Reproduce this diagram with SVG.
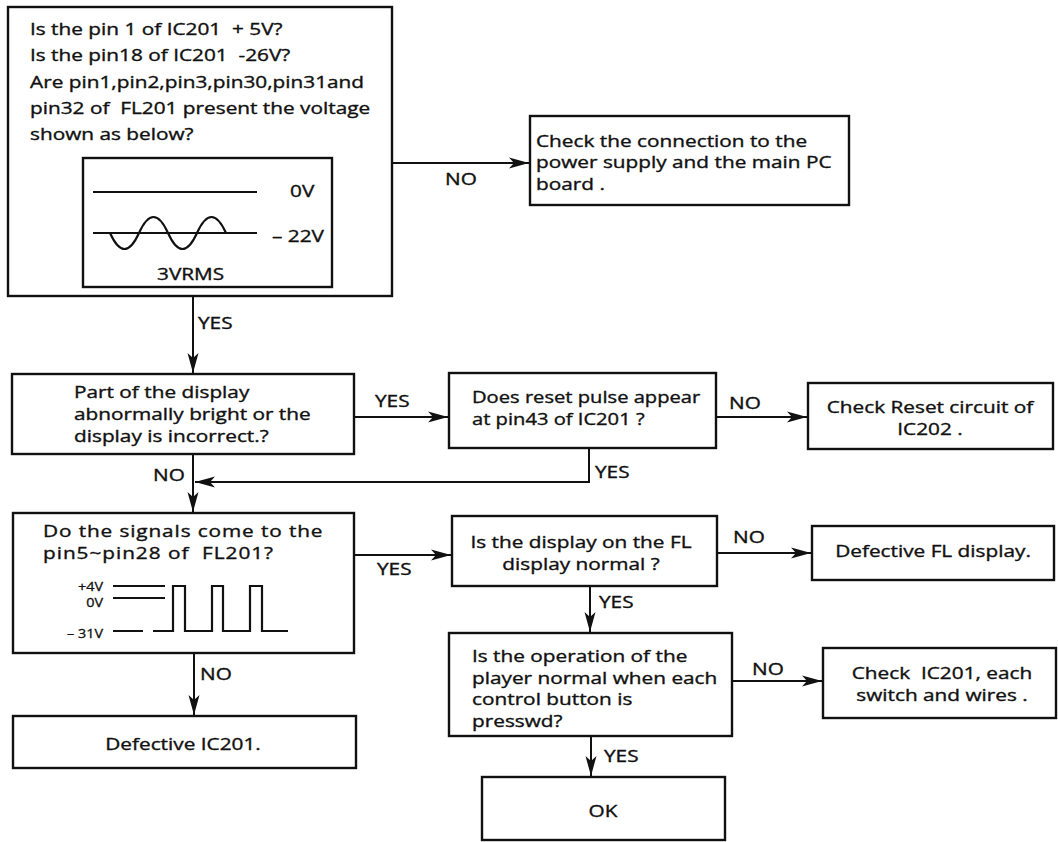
<svg xmlns="http://www.w3.org/2000/svg" width="1058" height="842" viewBox="0 0 1058 842">
<style>
.box{fill:#fff;stroke:#111;stroke-width:2.4}
.ln{fill:none;stroke:#111;stroke-width:2}
.wv{fill:none;stroke:#111;stroke-width:2.2}
text{font-family:"Open Sans","Noto Sans","DejaVu Sans",sans-serif;font-size:16px;fill:#111;stroke:#111;stroke-width:0.35;white-space:pre}
.m{text-anchor:middle}
.e{text-anchor:end}
.s{font-size:12px;stroke-width:0.3}
</style>
<defs>
<marker id="ah" viewBox="-21 -6 22 12" refX="0" refY="0" markerWidth="22" markerHeight="12" markerUnits="userSpaceOnUse" orient="auto">
<path d="M0,0 L-20,-5.5 L-15,0 L-20,5.5 Z" fill="#111"/>
</marker>
</defs>
<rect width="1058" height="842" fill="#fff"/>

<g id="connectors">
<path class="ln" d="M392,163 H529" marker-end="url(#ah)"/>
<path class="ln" d="M193,296 V373" marker-end="url(#ah)"/>
<path class="ln" d="M354,417 H448" marker-end="url(#ah)"/>
<path class="ln" d="M716,417 H807" marker-end="url(#ah)"/>
<path class="ln" d="M589,448 V482 H195" marker-end="url(#ah)"/>
<path class="ln" d="M193,454 V512" marker-end="url(#ah)"/>
<path class="ln" d="M354,555 H451" marker-end="url(#ah)"/>
<path class="ln" d="M717,553 H811" marker-end="url(#ah)"/>
<path class="ln" d="M590,586 V632" marker-end="url(#ah)"/>
<path class="ln" d="M194,653 V715" marker-end="url(#ah)"/>
<path class="ln" d="M732,681 H822" marker-end="url(#ah)"/>
<path class="ln" d="M591,736 V776" marker-end="url(#ah)"/>
<g transform="translate(445 0) scale(1.3 1)"><text x="0" y="185">NO</text></g>
<g transform="translate(198 0) scale(1.3 1)"><text x="0" y="329">YES</text></g>
<g transform="translate(375 0) scale(1.3 1)"><text x="0" y="407">YES</text></g>
<g transform="translate(729 0) scale(1.3 1)"><text x="0" y="409">NO</text></g>
<g transform="translate(595 0) scale(1.3 1)"><text x="0" y="478">YES</text></g>
<g transform="translate(153 0) scale(1.3 1)"><text x="0" y="481">NO</text></g>
<g transform="translate(377 0) scale(1.3 1)"><text x="0" y="575">YES</text></g>
<g transform="translate(733 0) scale(1.3 1)"><text x="0" y="543">NO</text></g>
<g transform="translate(599 0) scale(1.3 1)"><text x="0" y="608">YES</text></g>
<g transform="translate(200 0) scale(1.3 1)"><text x="0" y="680">NO</text></g>
<g transform="translate(752 0) scale(1.3 1)"><text x="0" y="675">NO</text></g>
<g transform="translate(604 0) scale(1.3 1)"><text x="0" y="762">YES</text></g>
</g>

<g id="n1">
<rect class="box" x="8" y="7" width="384" height="289"/>
<g transform="translate(30 0) scale(1.3 1)">
<text x="0" y="35">Is the pin 1 of IC201  + 5V?</text>
<text x="0" y="61">Is the pin18 of IC201  -26V?</text>
<text x="0" y="88">Are pin1,pin2,pin3,pin30,pin31and</text>
<text x="0" y="114">pin32 of  FL201 present the voltage</text>
<text x="0" y="140">shown as below?</text>
</g>
<rect class="box" x="83" y="158" width="249" height="129"/>
<path class="wv" d="M93,192 H257 M93,233 H257"/>
<path class="wv" d="M110,233 Q124.5,265 139,233 T168,233 T197,233 T226,233"/>
<g transform="translate(290 0) scale(1.3 1)"><text x="0" y="197">0V</text></g>
<g transform="translate(272 0) scale(1.3 1)"><text x="0" y="242">– 22V</text></g>
<g transform="translate(157 0) scale(1.3 1)"><text x="0" y="280">3VRMS</text></g>
</g>

<g id="n2">
<rect class="box" x="530" y="116" width="319" height="89"/>
<g transform="translate(536 0) scale(1.3 1)">
<text x="0" y="147">Check the connection to the</text>
<text x="0" y="168">power supply and the main PC</text>
<text x="0" y="190">board .</text>
</g>
</g>

<g id="n3">
<rect class="box" x="12" y="374" width="342" height="80"/>
<g transform="translate(74 0) scale(1.3 1)">
<text x="0" y="398">Part of the display</text>
<text x="0" y="420">abnormally bright or the</text>
<text x="0" y="442">display is incorrect.?</text>
</g>
</g>

<g id="n4">
<rect class="box" x="449" y="373" width="267" height="75"/>
<g transform="translate(472 0) scale(1.26 1)">
<text x="0" y="403">Does reset pulse appear</text>
<text x="0" y="425">at pin43 of IC201 ?</text>
</g>
</g>

<g id="n5">
<rect class="box" x="808" y="383" width="245" height="66"/>
<g transform="translate(930 0) scale(1.3 1)">
<text class="m" x="0" y="413">Check Reset circuit of</text>
<text class="m" x="0" y="435">IC202 .</text>
</g>
</g>

<g id="n6">
<rect class="box" x="13" y="513" width="341" height="140"/>
<g transform="translate(43 0) scale(1.3 1)">
<text x="0" y="537" textLength="215" lengthAdjust="spacing">Do the signals come to the</text>
<text x="0" y="559" textLength="177" lengthAdjust="spacing">pin5~pin28 of  FL201?</text>
</g>
<g transform="translate(103 0) scale(1.2 1)">
<text class="e s" x="0" y="591">+4V</text>
<text class="e s" x="0" y="607">0V</text>
<text class="e s" x="0" y="638">– 31V</text>
</g>
<path class="wv" d="M113,586 H165 M113,598 H165 M113,631 H143"/>
<path class="wv" d="M153,631 H173 V586 H185 V631 H212 V586 H223 V631 H250 V586 H262 V631 H288"/>
</g>

<g id="n7">
<rect class="box" x="452" y="516" width="265" height="70"/>
<g transform="translate(581 0) scale(1.3 1)">
<text class="m" x="0" y="548">Is the display on the FL</text>
<text class="m" x="0" y="570">display normal ?</text>
</g>
</g>

<g id="n8">
<rect class="box" x="812" y="526" width="242" height="54"/>
<g transform="translate(933 0) scale(1.3 1)">
<text class="m" x="0" y="557">Defective FL display.</text>
</g>
</g>

<g id="n9">
<rect class="box" x="449" y="633" width="283" height="103"/>
<g transform="translate(472 0) scale(1.3 1)">
<text x="0" y="662">Is the operation of the</text>
<text x="0" y="684">player normal when each</text>
<text x="0" y="705">control button is</text>
<text x="0" y="727">presswd?</text>
</g>
</g>

<g id="n10">
<rect class="box" x="823" y="648" width="233" height="70"/>
<g transform="translate(942 0) scale(1.3 1)">
<text class="m" x="0" y="679">Check  IC201, each</text>
<text class="m" x="0" y="701">switch and wires .</text>
</g>
</g>

<g id="n11">
<rect class="box" x="482" y="777" width="243" height="63"/>
<g transform="translate(603 0) scale(1.3 1)">
<text class="m" x="0" y="817">OK</text>
</g>
</g>

<g id="n12">
<rect class="box" x="13" y="716" width="343" height="52"/>
<g transform="translate(183 0) scale(1.3 1)">
<text class="m" x="0" y="750">Defective IC201.</text>
</g>
</g>
</svg>
